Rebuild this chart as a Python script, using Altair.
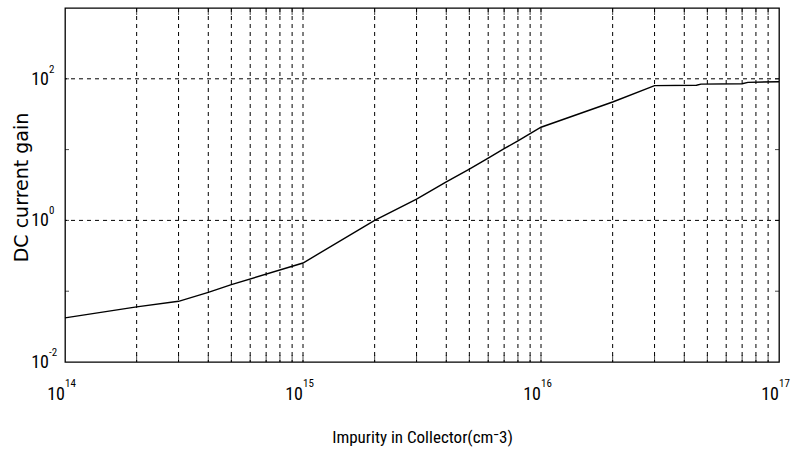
import altair as alt
import pandas as pd

# Data
impurity = [1e14, 2e14, 3e14, 4e14, 5e14, 1e15, 2e15, 3e15, 4e15, 5e15, 6e15,
            7e15, 8e15, 9e15, 1e16, 2e16, 3e16, 4.5e16, 4.7e16, 7e16, 7.4e16, 1e17]
gain = [0.042, 0.060, 0.072, 0.096, 0.124, 0.25, 1.0, 2.0, 3.5, 5.3, 7.6,
        10.3, 13.3, 16.8, 20.7, 47, 80, 81, 84, 85, 89, 91]

# Grid positions (dashed lines) and tick positions
grid_x = [m * 10.0 ** e for e in (14, 15, 16) for m in range(2, 10)] + [1e15, 1e16]
grid_y = [1, 100]
tick_y = [0.1, 1, 10, 100]

# Axis tick labels: base and exponent
x_ticks = [1e14, 1e15, 1e16, 1e17]
x_exps = ["14", "15", "16", "17"]
y_ticks = [0.01, 1, 100]
y_exps = ["-2", "0", "2"]
base = "10"

x_min, x_max = 1e14, 1e17
y_min, y_max = 0.01, 1000

df = pd.DataFrame({"n": impurity, "gain": gain})
gx = pd.DataFrame({"n": grid_x})
gy = pd.DataFrame({"gain": grid_y})
ty = pd.DataFrame({"gain": tick_y})
xl = pd.DataFrame({"n": x_ticks, "exp": x_exps, "base": base})
yl = pd.DataFrame({"gain": y_ticks, "exp": y_exps, "base": base})

lab_font = "Roboto Condensed, DejaVu Sans Condensed, Roboto, sans-serif"

xs = alt.Scale(type="log", domain=[x_min, x_max], nice=False)
ys = alt.Scale(type="log", domain=[y_min, y_max], nice=False)

x_axis = alt.Axis(
    values=x_ticks, labels=False,
    title="Impurity in Collector(cm⁻3)", grid=False, ticks=False, tickSize=0,
    domain=False,
    titleFont=lab_font, titleFontSize=17, titleFontWeight="normal", titleColor="black",
    titleY=75, titleBaseline="middle")
y_axis = alt.Axis(
    values=y_ticks, labels=False,
    title="DC current gain", grid=False, ticks=False, tickSize=0,
    domain=False,
    titleFont="DejaVu Sans", titleFontSize=19, titleFontWeight="normal", titleColor="black",
    titleX=-44, titleY=179, titleAngle=270, titleBaseline="middle", titleAlign="center")

X = lambda f: alt.X(f, scale=xs, axis=x_axis)
Y = lambda f: alt.Y(f, scale=ys, axis=y_axis)

dash = dict(color="black", strokeWidth=1, strokeDash=[4, 4])
vgrid = alt.Chart(gx).mark_rule(**dash).encode(x=X("n:Q"))
hgrid = alt.Chart(gy).mark_rule(**dash).encode(y=Y("gain:Q"))

# inward ticks (half clipped away by the frame)
tick_top = alt.Chart(gx).mark_tick(orient="vertical", size=14, thickness=1, color="black", clip=True).encode(
    x=X("n:Q"), y=alt.datum(y_max))
tick_bot = alt.Chart(gx).mark_tick(orient="vertical", size=14, thickness=1, color="black", clip=True).encode(
    x=X("n:Q"), y=alt.datum(y_min))
tick_left = alt.Chart(ty).mark_tick(orient="horizontal", size=8, thickness=1, color="black", clip=True).encode(
    y=Y("gain:Q"), x=alt.datum(x_min))
tick_right = alt.Chart(ty).mark_tick(orient="horizontal", size=8, thickness=1, color="black", clip=True).encode(
    y=Y("gain:Q"), x=alt.datum(x_max))

line = alt.Chart(df).mark_line(color="black", strokeWidth=1.4).encode(
    x=X("n:Q"), y=Y("gain:Q"))

# tick labels: "10" with superscript exponent
txt = dict(font=lab_font, color="black")
xbase = alt.Chart(xl).mark_text(align="right", baseline="alphabetic", dx=0, dy=38, fontSize=18, **txt).encode(
    x=X("n:Q"), y=alt.datum(y_min), text="base:N")
xexp = alt.Chart(xl).mark_text(align="left", baseline="alphabetic", dx=0, dy=25, fontSize=11, **txt).encode(
    x=X("n:Q"), y=alt.datum(y_min), text="exp:N")
ybase = alt.Chart(yl).mark_text(align="right", baseline="middle", dx=-16, dy=1, fontSize=18, **txt).encode(
    y=Y("gain:Q"), x=alt.datum(x_min), text="base:N")
yexp = alt.Chart(yl).mark_text(align="left", baseline="alphabetic", dx=-16, dy=-6, fontSize=11, **txt).encode(
    y=Y("gain:Q"), x=alt.datum(x_min), text="exp:N")

chart = alt.layer(vgrid, hgrid, tick_top, tick_bot, tick_left, tick_right, line,
                  xbase, xexp, ybase, yexp).properties(
    width=714, height=354,
    padding={"left": 65, "top": 8, "right": 13, "bottom": 92},
    autosize=alt.AutoSizeParams(type="none"),
    background="white",
).configure_view(stroke="black", strokeWidth=1.3)

chart.save("out.html", embed_options={"renderer": "svg", "actions": False})
